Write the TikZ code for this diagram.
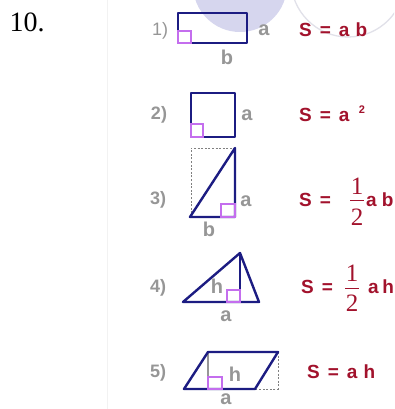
\documentclass[tikz,border=0pt]{standalone}
\usepackage{fontspec}
\setmainfont{Liberation Serif}
\setsansfont{Liberation Sans}
\usepackage{tikz}
\usetikzlibrary{positioning}
\definecolor{figblue}{RGB}{28,28,130}
\definecolor{rightmark}{RGB}{196,110,238}
\definecolor{formred}{RGB}{162,18,44}
\definecolor{lblgray}{RGB}{150,150,150}
\definecolor{wmark}{RGB}{214,214,238}

\begin{document}
\begin{tikzpicture}[x=1pt, y=-1pt,
figline/.style={draw=figblue, line width=2.4pt, line join=round},
rangle/.style={draw=rightmark, line width=2pt},
helper/.style={draw=gray, line width=0.8pt, dash pattern=on 2pt off 1.6pt},
num/.style={text=lblgray, inner sep=0pt, font=\sffamily\bfseries\fontsize{18}{18}\selectfont},
side/.style={text=lblgray, inner sep=0pt, font=\sffamily\bfseries\fontsize{20}{20}\selectfont},
formula/.style={text=formred, inner sep=0pt, anchor=west, font=\sffamily\bfseries\fontsize{19}{19}\selectfont},
frac/.style={text=formred, inner sep=0pt, font=\fontsize{25}{25}\selectfont},
]
\clip (0,0) rectangle (394,409);
\fill[white] (0,0) rectangle (394,409);

\fill[wmark] (240,-15) circle (47);
\draw[wmark!70!gray!45, line width=1.3pt] (348,-20) circle (57);
\draw[gray!10, line width=0.8pt] (107,0) -- (107,409);

\node[inner sep=0pt, font=\fontsize{28}{28}\selectfont] (ten) at (27,22) {10.};

% 1) rectangle
\draw[figline] (178,13) rectangle (247,43);
\draw[rangle] (178,31) rectangle (191,43);
\node[num, font=\sffamily\fontsize{18}{18}\selectfont] (n1) at (160,31) {1)};
\node[side] (a1) at (264,30) {a};
\node[side] (b1) at (227,57) {b};
\node[formula] (s1) at (299,30) {S\hspace{8pt}=\hspace{8pt}a\hspace{6pt}b};

% 2) square
\draw[figline] (191,93) rectangle (235,137);
\draw[rangle] (191,124) rectangle (203,137);
\node[num] (n2) at (159,115) {2)};
\node[side] (a2) at (247,115) {a};
\node[formula] (s2) at (299,115) {S\hspace{8pt}=\hspace{8pt}a};
\node[text=formred, inner sep=0pt, font=\sffamily\bfseries\fontsize{11}{11}\selectfont] (p2) at (362,110) {2};

% 3) right triangle
\draw[helper] (191,217) -- (191,148) -- (235,148);
\draw[figline] (190,217) -- (235,148) -- (235,217) -- cycle;
\draw[rangle] (221,204) rectangle (235,217);
\node[num] (n3) at (158,200) {3)};
\node[side] (a3) at (246,201) {a};
\node[side] (b3) at (209,229) {b};
\node[formula] (s3) at (299,200) {S\hspace{8pt}=};
\node[frac] (f3n) at (357,186) {1};
\node[frac] (f3d) at (357,217) {2};
\draw[formred, line width=1pt] (350,200) -- (364,200);
\node[formula] (s3r) at (366,200) {a\hspace{5pt}b};

% 4) triangle with height
\draw[figline] (183,302) -- (240,253) -- (259,302) -- cycle;
\draw[figblue, line width=2pt] (240,253) -- (240,302);
\draw[rangle] (227,290) rectangle (240,302);
\node[num] (n4) at (158,288) {4)};
\node[side] (h4) at (217,286) {h};
\node[side] (a4) at (226,316) {a};
\node[formula] (s4) at (301,287) {S\hspace{8pt}=};
\node[frac] (f4n) at (352,273) {1};
\node[frac] (f4d) at (352,303) {2};
\draw[formred, line width=1pt] (345,288) -- (359,288);
\node[formula] (s4r) at (368,287) {a\hspace{3.5pt}h};

% 5) parallelogram
\draw[helper] (278,352) -- (278,389) -- (255,389);
\draw[lblgray, line width=1.6pt] (208,352) -- (208,389);
\draw[figline] (184,389) -- (208,352) -- (278,352) -- (255,389) -- cycle;
\draw[rangle] (208,377) rectangle (222,389);
\node[num] (n5) at (158,373) {5)};
\node[side] (h5) at (235,374) {h};
\node[side] (a5) at (226,399) {a};
\node[formula] (s5) at (307,372) {S\hspace{8pt}=\hspace{8pt}a\hspace{6pt}h};
\end{tikzpicture}
\end{document}
